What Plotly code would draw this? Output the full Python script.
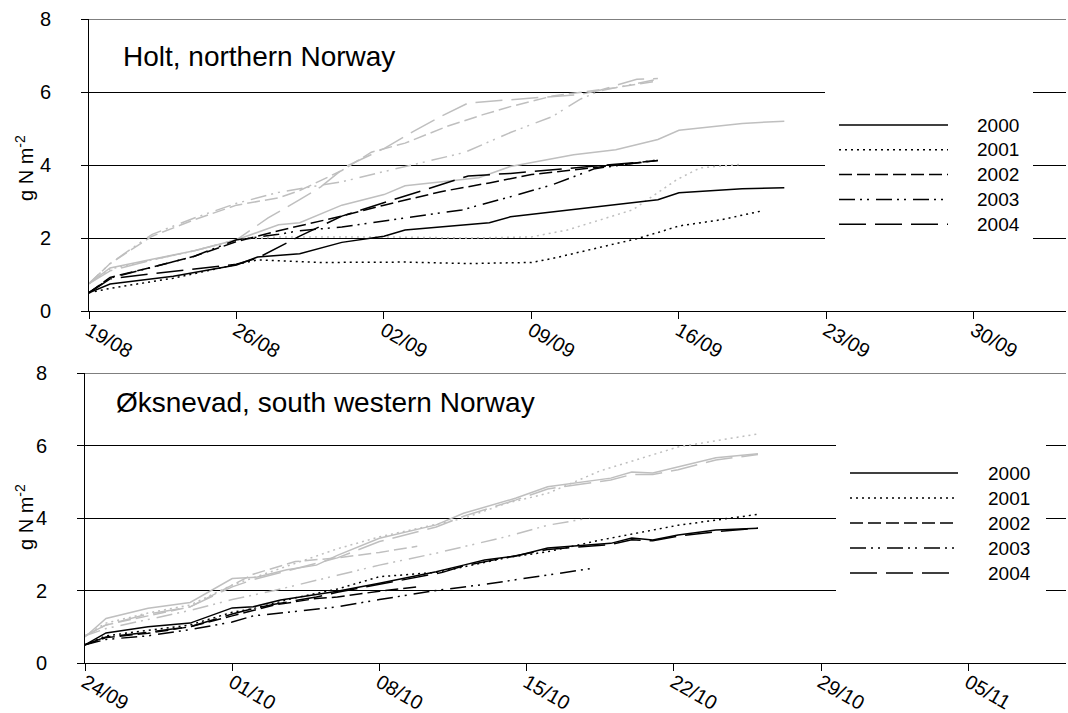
import pandas as pd
import plotly.graph_objects as go

W, H = 1068, 713
FONT = "Liberation Sans, Arial, sans-serif"

YEARS = ["2000", "2001", "2002", "2003", "2004"]
HOLT_START = "2001-08-19"
OKS_START = "2001-09-24"

# ---------------- Holt, northern Norway (days after 19/08, g N m-2) ----------------
# black series
holt_k_2000_day = [0, 1, 4, 7, 8, 10, 12, 14, 15, 17, 19, 20, 23, 25, 27, 28, 31, 33]
holt_k_2000_val = [0.5, 0.74, 0.95, 1.26, 1.48, 1.57, 1.88, 2.05, 2.22, 2.32, 2.42, 2.58, 2.78, 2.92, 3.05, 3.24, 3.35, 3.38]
holt_k_2001_day = [0, 1, 4, 6.5, 8, 11, 15, 18, 21, 22, 24, 26, 27, 28, 30, 32]
holt_k_2001_val = [0.5, 0.62, 0.9, 1.2, 1.4, 1.33, 1.34, 1.3, 1.33, 1.44, 1.7, 1.98, 2.15, 2.33, 2.5, 2.75]
holt_k_2002_day = [0, 1, 3, 5, 7, 9, 12, 14, 16.7, 19, 21, 24, 27]
holt_k_2002_val = [0.5, 0.92, 1.2, 1.5, 1.9, 2.2, 2.6, 2.9, 3.27, 3.51, 3.74, 3.93, 4.12]
holt_k_2003_day = [0, 1, 3, 5, 7, 9, 10, 12, 15, 17.7, 20, 22, 24, 27]
holt_k_2003_val = [0.5, 0.9, 1.2, 1.5, 1.95, 2.1, 2.2, 2.3, 2.55, 2.77, 3.13, 3.46, 3.9, 4.14]
holt_k_2004_day = [0, 1, 3, 5, 7, 8, 10, 12, 14, 16.7, 18, 20, 22, 25, 27]
holt_k_2004_val = [0.5, 0.88, 1.02, 1.15, 1.28, 1.45, 2.05, 2.6, 2.96, 3.46, 3.7, 3.77, 3.87, 4.0, 4.12]
# grey series
holt_g_2000_day = [0, 1, 3, 5, 7, 9, 10, 12, 14, 15, 18.5, 20, 23, 25, 27, 28, 31, 33]
holt_g_2000_val = [0.75, 1.18, 1.42, 1.65, 1.95, 2.36, 2.42, 2.9, 3.19, 3.43, 3.65, 3.96, 4.28, 4.42, 4.7, 4.95, 5.14, 5.2]
holt_g_2001_day = [0, 1, 3, 5, 7, 9, 14, 18, 21, 22.7, 25.8, 27.9, 29, 31]
holt_g_2001_val = [0.75, 1.15, 1.4, 1.65, 1.95, 2.03, 2.03, 2.0, 2.03, 2.22, 2.77, 3.6, 3.92, 4.02]
holt_g_2002_day = [0, 1, 3, 5, 7, 9, 10, 12, 13.4, 15, 17, 18.7, 20, 22, 25, 27]
holt_g_2002_val = [0.75, 1.3, 2.05, 2.5, 2.9, 3.1, 3.3, 3.85, 4.35, 4.6, 5.06, 5.38, 5.6, 5.89, 6.12, 6.3]
holt_g_2003_day = [0, 1, 3, 5, 7, 9, 10, 12, 14, 16.7, 17.8, 20, 22, 23.3, 24.25, 27]
holt_g_2003_val = [0.75, 1.3, 2.1, 2.55, 2.95, 3.25, 3.35, 3.54, 3.82, 4.2, 4.34, 4.89, 5.33, 5.8, 6.03, 6.35]
holt_g_2004_day = [0, 1, 3, 5, 7, 8.5, 10, 11, 12.2, 14, 15.4, 16.7, 18, 20, 21.4, 23.3, 24.25, 26, 27]
holt_g_2004_val = [0.75, 1.1, 1.4, 1.65, 1.95, 2.55, 3.05, 3.4, 3.96, 4.45, 4.92, 5.33, 5.7, 5.8, 5.85, 5.93, 6.05, 6.35, 6.37]

# ---------------- Øksnevad, south western Norway (days after 24/09) ----------------
oks_k_2000_day = [0, 1, 3, 5, 7, 8, 9.3, 11, 12, 14, 16.7, 18, 19, 20.5, 22, 25, 26, 27, 28.2, 30, 32]
oks_k_2000_val = [0.5, 0.83, 1.0, 1.1, 1.52, 1.55, 1.74, 1.88, 1.98, 2.2, 2.52, 2.7, 2.84, 2.95, 3.17, 3.3, 3.45, 3.39, 3.53, 3.67, 3.72]
oks_k_2001_day = [0, 1, 3, 5, 7, 8, 10, 12, 14, 16.7, 18, 20, 22, 24.5, 28.2, 32]
oks_k_2001_val = [0.5, 0.75, 0.9, 1.05, 1.4, 1.5, 1.8, 2.04, 2.38, 2.5, 2.65, 2.9, 3.07, 3.39, 3.8, 4.1]
oks_k_2002_day = [0, 1, 3, 5, 7, 9, 11, 12, 14, 15.8]
oks_k_2002_val = [0.5, 0.7, 0.82, 1.0, 1.3, 1.6, 1.78, 1.82, 1.98, 2.1]
oks_k_2003_day = [0, 1, 3, 5, 7, 8, 10, 12, 14, 16.7, 19, 21.4, 24]
oks_k_2003_val = [0.5, 0.65, 0.75, 0.92, 1.13, 1.3, 1.42, 1.55, 1.75, 2.0, 2.17, 2.37, 2.6]
oks_k_2004_day = [0, 1, 3, 5, 7, 8, 9, 11, 12, 14, 17, 18, 20, 22, 25, 26, 27, 28.2, 30, 32]
oks_k_2004_val = [0.5, 0.72, 0.85, 1.0, 1.35, 1.5, 1.62, 1.82, 1.95, 2.17, 2.5, 2.68, 2.9, 3.13, 3.27, 3.4, 3.37, 3.5, 3.62, 3.72]
oks_g_2000_day = [0, 1, 3, 5, 7, 8.2, 9.6, 11, 12, 14, 16.7, 18, 20.5, 22, 25, 26, 27, 28.2, 30, 32]
oks_g_2000_val = [0.72, 1.23, 1.51, 1.67, 2.33, 2.37, 2.57, 2.7, 2.97, 3.44, 3.81, 4.13, 4.55, 4.86, 5.1, 5.27, 5.24, 5.41, 5.66, 5.77]
oks_g_2001_day = [0, 1, 3, 5, 7, 9, 12, 14, 18, 20, 22, 24.5, 28.2, 32]
oks_g_2001_val = [0.75, 1.1, 1.38, 1.6, 2.15, 2.55, 3.15, 3.48, 3.99, 4.4, 4.68, 5.3, 5.96, 6.32]
oks_g_2002_day = [0, 1, 3, 5, 7, 8, 10, 12, 14, 15.8]
oks_g_2002_val = [0.75, 1.05, 1.3, 1.55, 2.15, 2.45, 2.8, 2.9, 3.05, 3.22]
oks_g_2003_day = [0, 1, 3, 5, 7, 9, 12, 14, 16.7, 20, 22, 24]
oks_g_2003_val = [0.75, 0.95, 1.2, 1.45, 1.75, 2.0, 2.42, 2.7, 3.03, 3.48, 3.8, 4.0]
oks_g_2004_day = [0, 1, 3, 5, 7, 8, 10, 12, 14, 16.7, 18, 20.5, 22, 25, 26, 27, 28.2, 30, 32]
oks_g_2004_val = [0.75, 1.05, 1.35, 1.55, 2.1, 2.3, 2.6, 2.9, 3.35, 3.75, 4.05, 4.5, 4.8, 5.05, 5.2, 5.2, 5.33, 5.6, 5.75]

# line styles per year
DASH = {
    "2000": "solid",
    "2001": "2px,4px",
    "2002": "13px,5px",
    "2003": "16px,5px,2px,5px,2px,7px",
    "2004": "27px,9px",
}
BLACK = "#000000"
GREY = "#bfbfbf"

g = globals()


def dates(start, days):
    t0 = pd.Timestamp(start)
    return [t0 + pd.Timedelta(days=d) for d in days]


fig = go.Figure()

panels = [
    ("holt", HOLT_START, "x", "y"),
    ("oks", OKS_START, "x2", "y2"),
]
for site, start, xa, ya in panels:
    for group, colour in (("g", GREY), ("k", BLACK)):
        for yr in YEARS:
            days = g[f"{site}_{group}_{yr}_day"]
            vals = g[f"{site}_{group}_{yr}_val"]
            fig.add_trace(go.Scatter(
                x=dates(start, days), y=vals, mode="lines",
                line=dict(color=colour, width=1.5, dash=DASH[yr]),
                xaxis=xa, yaxis=ya, showlegend=False, hoverinfo="skip",
            ))


def px_x(p):
    return p / W


def px_y(p):
    return 1 - p / H


WEEK = 7 * 86400000
TICK_FONT = dict(family=FONT, size=20, color="black")


def xaxis(start, left, span_days, anchor):
    end = pd.Timestamp(start) + pd.Timedelta(days=span_days)
    return dict(
        type="date", domain=[px_x(left), px_x(1066)], anchor=anchor,
        range=[pd.Timestamp(start), end], automargin=False,
        tick0=pd.Timestamp(start), dtick=WEEK, tickformat="%d/%m",
        tickangle=30, ticks="outside", ticklen=7, tickcolor="black",
        ticklabelstandoff=-8,
        showline=True, linecolor="black", linewidth=1, showgrid=False,
        zeroline=False, tickfont=TICK_FONT,
    )


def yaxis(top, bottom, anchor):
    return dict(
        domain=[px_y(bottom), px_y(top)], range=[0, 8], tick0=0, dtick=2,
        anchor=anchor, automargin=False, showgrid=True, gridcolor="black",
        gridwidth=1, showline=True, linecolor="black", linewidth=1,
        zeroline=False, ticks="outside", ticklen=7, tickcolor="black",
        ticklabelstandoff=26, tickfont=TICK_FONT,
    )


shapes = []
annotations = []

# top gridline at 8 for each panel
for xr, yr_ in (("x", "y"), ("x2", "y2")):
    shapes.append(dict(type="line", xref=f"{xr} domain", yref=yr_,
                       x0=0, x1=1, y0=8, y1=8,
                       line=dict(color="black", width=1), layer="below"))

legend_boxes = [
    # box x0, x1, y0, y1, line x0, x1, text x, first row y, row step
    (825, 1033, 82, 252, 839, 948, 975, 125, 24.8),
    (836, 1046, 436, 604, 850, 958, 986, 473, 25.0),
]
for bx0, bx1, by0, by1, lx0, lx1, tx, ry, step in legend_boxes:
    shapes.append(dict(type="rect", xref="paper", yref="paper",
                       x0=px_x(bx0), x1=px_x(bx1), y0=px_y(by1), y1=px_y(by0),
                       fillcolor="white", line=dict(width=0), layer="above"))
    for i, yr in enumerate(YEARS):
        yy = ry + i * step
        shapes.append(dict(type="line", xref="paper", yref="paper",
                           x0=px_x(lx0), x1=px_x(lx1), y0=px_y(yy), y1=px_y(yy),
                           line=dict(color=BLACK, width=1.5, dash=DASH[yr]),
                           layer="above"))
        annotations.append(dict(xref="paper", yref="paper", x=px_x(tx), y=px_y(yy),
                                xanchor="left", yanchor="middle", showarrow=False,
                                text=yr, font=dict(family=FONT, size=19, color="black")))

# panel titles
annotations.append(dict(xref="paper", yref="paper", x=px_x(121), y=px_y(56),
                        xanchor="left", yanchor="middle", showarrow=False,
                        text="Holt, northern Norway",
                        font=dict(family=FONT, size=28, color="black")))
annotations.append(dict(xref="paper", yref="paper", x=px_x(114), y=px_y(403),
                        xanchor="left", yanchor="middle", showarrow=False,
                        text="Øksnevad, south western Norway",
                        font=dict(family=FONT, size=28, color="black")))
# y-axis titles
for cy in (168, 517):
    annotations.append(dict(xref="paper", yref="paper", x=px_x(24), y=px_y(cy),
                            xanchor="center", yanchor="middle", showarrow=False,
                            textangle=-90, text="g N m<sup>-2</sup>",
                            font=dict(family=FONT, size=20, color="black")))

fig.update_layout(
    template="none",
    width=W, height=H, autosize=False,
    margin=dict(l=0, r=0, t=0, b=0, autoexpand=False),
    paper_bgcolor="white", plot_bgcolor="white",
    showlegend=False,
    xaxis=xaxis(HOLT_START, 89, 977 / 21.07, "y"),
    yaxis=yaxis(19, 311, "x"),
    xaxis2=xaxis(OKS_START, 85, 981 / 21.03, "y2"),
    yaxis2=yaxis(373, 663, "x2"),
    shapes=shapes,
    annotations=annotations,
)

fig.write_html("out.html")
